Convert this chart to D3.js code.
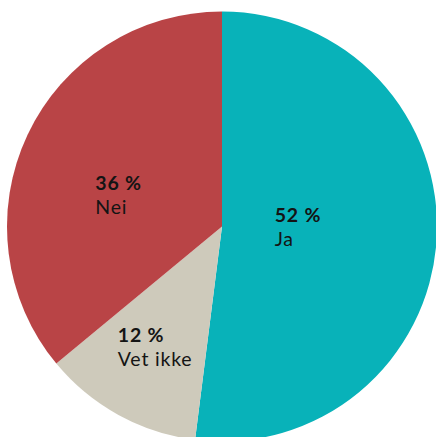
<!DOCTYPE html>
<html lang="no">
<head>
  <meta charset="UTF-8">
  <title>Ja / Nei / Vet ikke</title>
  <style>
    html, body { margin: 0; padding: 0; background: #fff; }
    svg { display: block; }
    .lbl { font-family: Lato, "Open Sans", sans-serif; font-size: 19.5px; letter-spacing: 0.8px; fill: #141414; }
    .pct { font-weight: 700; }
  </style>
</head>
<body>
  <svg width="436" height="437"></svg>
  <script src="https://cdn.jsdelivr.net/npm/d3@7"></script>
  <script>
    // data
    var categories = ["Ja", "Vet ikke", "Nei"];
    var values = [52, 12, 36];
    var colors = ["#08b2b9", "#cecabb", "#b94446"];

    var svg = d3.select("svg");
    var cx = 222, cy = 226.5, radius = 215;

    var slices = categories.map(function (c, i) {
      return { name: c, value: values[i], color: colors[i] };
    });

    var pie = d3.pie()
      .value(function (d) { return d.value; })
      .sort(null);

    var arc = d3.arc().innerRadius(0).outerRadius(radius);

    var g = svg.append("g").attr("transform", "translate(" + cx + "," + cy + ")");

    var arcs = pie(slices);

    g.selectAll("path")
      .data(arcs)
      .enter()
      .append("path")
      .attr("d", arc)
      .attr("fill", function (d) { return d.data.color; });

    // label placement: radius + small angle shift per slice (to match the original hand placement)
    var labelTweak = {
      "Ja": { r: 76, shift: -3.2 },
      "Vet ikke": { r: 138, shift: 0.2 },
      "Nei": { r: 108, shift: -8.4 }
    };

    var labels = g.selectAll("g.label")
      .data(arcs)
      .enter()
      .append("g")
      .attr("class", "label");

    labels.each(function (d) {
      var t = labelTweak[d.data.name];
      var mid = (d.startAngle + d.endAngle) / 2 + t.shift * Math.PI / 180;
      var p = d3.pointRadial(mid, t.r);
      var el = d3.select(this);
      var pct = el.append("text").attr("class", "lbl pct").text(d.data.value + " %");
      var nm = el.append("text").attr("class", "lbl").text(d.data.name);
      // left aligned block centred on p
      var w = Math.max(pct.node().getComputedTextLength(), nm.node().getComputedTextLength());
      var left = p[0] - w / 2;
      pct.attr("x", left).attr("y", p[1] - 5);
      nm.attr("x", left).attr("y", p[1] + 18.5);
    });
  </script>
</body>
</html>
